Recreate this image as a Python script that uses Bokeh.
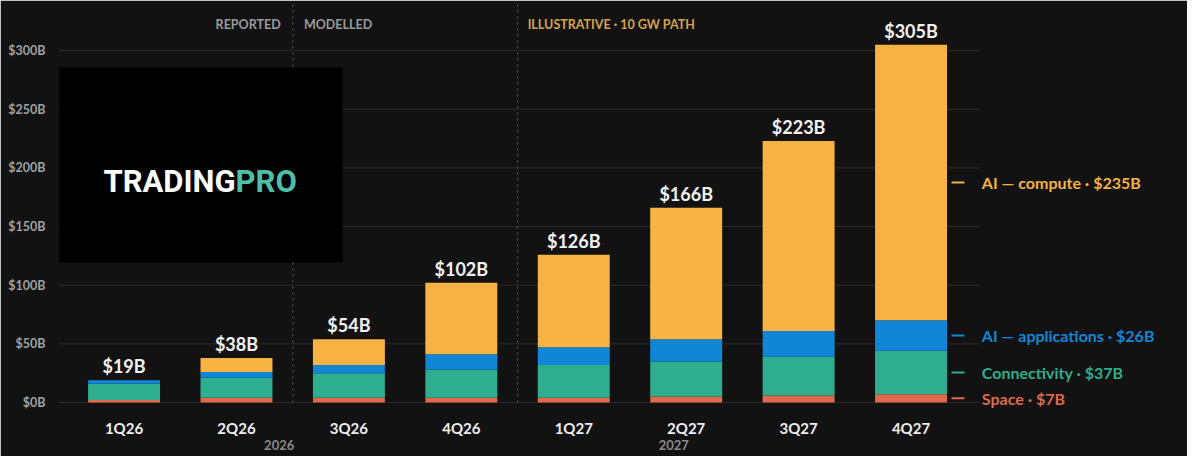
from bokeh.plotting import figure
from bokeh.models import Range1d, FixedTicker, LinearAxis, Label, ColumnDataSource, BoxAnnotation
from bokeh.embed import file_html
from bokeh.resources import INLINE
from bokeh.core.properties import value

# ---- data ----
quarters = ["1Q26", "2Q26", "3Q26", "4Q26", "1Q27", "2Q27", "3Q27", "4Q27"]
space = [2, 4, 4, 4, 4, 5, 6, 7]
connectivity = [14, 17, 21, 24, 28, 30, 33, 37]
ai_applications = [3, 5, 7, 13, 15, 19, 22, 26]
ai_compute = [0, 12, 22, 61, 79, 112, 162, 235]
series_keys = ["space", "connectivity", "ai_applications", "ai_compute"]
series_names = ["Space", "Connectivity", "AI \u2014 applications", "AI \u2014 compute"]
series_colors = ["#de694b", "#2eae8e", "#1186d6", "#f6b243"]
years = ["2026", "2027"]
year_positions = [1.38, 4.89]
phase_breaks = [1.5, 3.5]
y_ticks = [0, 50, 100, 150, 200, 250, 300]

FONT = "Lato"
BG = "#121212"
X_START, X_GRID_END, X_END = -0.583, 7.61, 9.37
Y_START, Y_END = -6.0, 341

xs = list(range(len(quarters)))
totals = [a + b + c + d for a, b, c, d in zip(space, connectivity, ai_applications, ai_compute)]
source = ColumnDataSource(dict(
    x=xs, space=space, connectivity=connectivity, ai_applications=ai_applications,
    ai_compute=ai_compute, total=totals, label=[f"${t}B" for t in totals],
))

p = figure(width=1187, height=456, output_backend="svg", toolbar_location=None,
           x_range=Range1d(X_START, X_END), y_range=Range1d(Y_START, Y_END),
           background_fill_color=BG, border_fill_color=BG,
           min_border_left=58, min_border_right=10, min_border_top=2, min_border_bottom=47)
# outline in the background colour hides the light seam at the frame edge
p.outline_line_color = BG
p.outline_line_width = 2

# horizontal grid lines, limited to the chart area (labels sit to their right)
p.xgrid.grid_line_color = None
p.ygrid.grid_line_color = None
p.segment(x0=[X_START] * len(y_ticks), x1=[X_GRID_END] * len(y_ticks), y0=y_ticks, y1=y_ticks,
          line_color="#2a2a2a", line_width=1)

# phase separators (dashed)
p.segment(x0=phase_breaks, x1=phase_breaks, y0=[0] * len(phase_breaks),
          y1=[Y_END] * len(phase_breaks), line_color="#555555", line_dash="2 4", line_width=1.2)

p.vbar_stack(series_keys, x="x", width=0.64, color=series_colors, line_color=None, source=source)

p.text(x="x", y="total", text="label", source=source, text_align="center",
       text_baseline="alphabetic", y_offset=-14, text_color="#f2f2f2",
       text_font=value(FONT), text_font_style="bold", text_font_size="18px")

# axes
p.yaxis.ticker = FixedTicker(ticks=y_ticks)
p.yaxis.major_label_overrides = {t: f"${t}B" for t in y_ticks}
p.yaxis.axis_line_color = None
p.yaxis.major_tick_line_color = None
p.yaxis.minor_tick_line_color = None
p.yaxis.major_tick_out = 0
p.yaxis.major_tick_in = 0
p.yaxis.minor_tick_out = 0
p.yaxis.major_label_standoff = 13
p.yaxis.major_label_text_color = "#a0a0a0"
p.yaxis.major_label_text_font = FONT
p.yaxis.major_label_text_font_style = "bold"
p.yaxis.major_label_text_font_size = "12.5px"

p.xaxis.ticker = FixedTicker(ticks=xs)
p.xaxis.major_label_overrides = {i: q for i, q in zip(xs, quarters)}
p.xaxis.axis_line_color = None
p.xaxis.major_tick_line_color = None
p.xaxis.minor_tick_line_color = None
p.xaxis.major_tick_out = 0
p.xaxis.major_tick_in = 0
p.xaxis.minor_tick_out = 0
p.xaxis.major_label_standoff = 9
p.xaxis.major_label_text_color = "#eeeeee"
p.xaxis.major_label_text_font = FONT
p.xaxis.major_label_text_font_style = "bold"
p.xaxis.major_label_text_font_size = "15px"

year_axis = LinearAxis(ticker=FixedTicker(ticks=year_positions),
                       major_label_overrides={pos: y for pos, y in zip(year_positions, years)})
year_axis.axis_line_color = None
year_axis.major_tick_line_color = None
year_axis.minor_tick_line_color = None
year_axis.major_tick_out = 0
year_axis.major_tick_in = 0
year_axis.minor_tick_out = 0
year_axis.major_label_standoff = 0
year_axis.major_label_text_color = "#8a8a8a"
year_axis.major_label_text_font = FONT
year_axis.major_label_text_font_style = "bold"
year_axis.major_label_text_font_size = "13px"
p.add_layout(year_axis, "below")

phase_style = dict(y=322, text_baseline="middle", text_font=FONT,
                   text_font_style="bold", text_font_size="12.5px")
p.add_layout(Label(x=phase_breaks[0] - 0.107, text="REPORTED", text_align="right",
                   text_color="#9a9a9a", **phase_style))
p.add_layout(Label(x=phase_breaks[0] + 0.1, text="MODELLED", text_align="left",
                   text_color="#9a9a9a", **phase_style))
p.add_layout(Label(x=phase_breaks[1] + 0.09, text="ILLUSTRATIVE \u00b7 10 GW PATH",
                   text_align="left", text_color="#d9a24a", **phase_style))

# right-side series labels at last bar's segment centres
last = len(quarters) - 1
last_vals = [space[last], connectivity[last], ai_applications[last], ai_compute[last]]
centers = []
cum = 0
for v in last_vals:
    centers.append(cum + v / 2)
    cum += v
p.segment(x0=[last + 0.36] * 4, x1=[last + 0.475] * 4, y0=centers, y1=centers,
          line_color=series_colors, line_width=2)
for name, v, c, col in zip(series_names, last_vals, centers, series_colors):
    p.add_layout(Label(x=last + 0.63, y=c, text=f"{name} \u00b7 ${v}B", text_color=col,
                       text_baseline="middle", text_font=FONT, text_font_style="bold",
                       text_font_size="16px"))

# watermark overlay
p.add_layout(BoxAnnotation(left=-0.577, right=1.944, bottom=119.4, top=285.6,
                           fill_color="#000000", fill_alpha=1.0, line_color=None))
p.add_layout(Label(x=0.992, y=188.4, text="TRADING", text_align="right",
                   text_baseline="alphabetic", text_color="#ffffff", text_font="Roboto",
                   text_font_style="bold", text_font_size="31px"))
p.add_layout(Label(x=0.992, y=188.4, text="PRO", text_align="left",
                   text_baseline="alphabetic", text_color="#4dbfa9", text_font="Roboto",
                   text_font_style="bold", text_font_size="31px"))

html = file_html(p, INLINE)
html = html.replace("<body>", '<body style="background-color:#121212">', 1)
open("out.html", "w").write(html)
